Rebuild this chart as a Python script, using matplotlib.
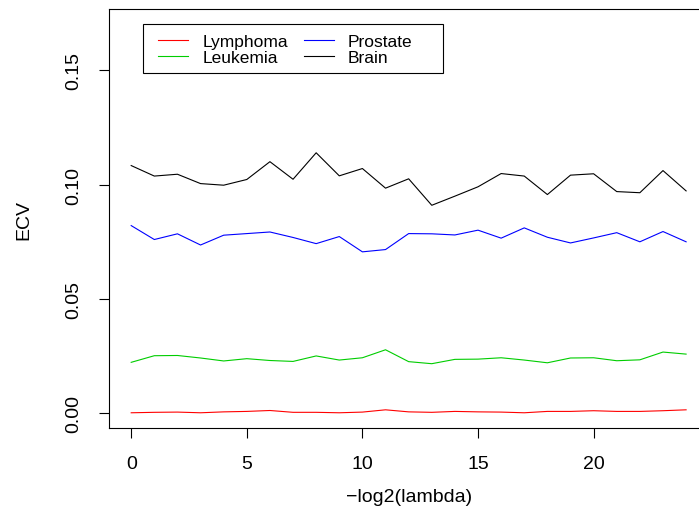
import matplotlib
matplotlib.use("Agg")
import matplotlib.pyplot as plt
from matplotlib.patches import Rectangle

plt.rcParams['font.family'] = ['Liberation Sans', 'DejaVu Sans']

# -log2(lambda)
x = list(range(25))

lymphoma = [0.0000, 0.0002, 0.0003, 0.0000, 0.0004, 0.0006, 0.0010, 0.0002, 0.0002, 0.0000,
            0.0003, 0.0013, 0.0004, 0.0002, 0.0006, 0.0004, 0.0003, 0.0000, 0.0006, 0.0006,
            0.0009, 0.0006, 0.0006, 0.0009, 0.0013]
leukemia = [0.0221, 0.0250, 0.0251, 0.0240, 0.0227, 0.0237, 0.0229, 0.0225, 0.0249, 0.0231,
            0.0241, 0.0276, 0.0224, 0.0215, 0.0234, 0.0235, 0.0241, 0.0231, 0.0219, 0.0240,
            0.0241, 0.0228, 0.0232, 0.0266, 0.0257]
prostate = [0.0820, 0.0759, 0.0784, 0.0735, 0.0778, 0.0785, 0.0792, 0.0768, 0.0741, 0.0772,
            0.0705, 0.0715, 0.0785, 0.0784, 0.0779, 0.0800, 0.0765, 0.0810, 0.0769, 0.0744,
            0.0766, 0.0789, 0.0749, 0.0794, 0.0749]
brain = [0.1083, 0.1037, 0.1045, 0.1004, 0.0997, 0.1022, 0.1100, 0.1023, 0.1139, 0.1038,
         0.1070, 0.0984, 0.1025, 0.0909, 0.0949, 0.0990, 0.1048, 0.1037, 0.0956, 0.1041,
         0.1047, 0.0969, 0.0964, 0.1061, 0.0972]

series = [("Lymphoma", lymphoma, "#FF0000"),
          ("Leukemia", leukemia, "#00CD00"),
          ("Prostate", prostate, "#0000FF"),
          ("Brain", brain, "#000000")]

W, H = 699, 510
fig = plt.figure(figsize=(W / 100, H / 100), dpi=100)
# plot region in pixels (R base graphics layout, right edge cropped)
left, right, top, bottom = 109, 708.3, 10.2, 429.3
ax = fig.add_axes([left / W, 1 - bottom / H, (right - left) / W, (bottom - top) / H])

for name, vals, col in series:
    ax.plot(x, vals, color=col, lw=0.8, label=name)

ax.set_xlim(-0.96, 24.96)
ax.set_ylim(-0.0068, 0.1768)
ax.set_xticks([0, 5, 10, 15, 20])
ax.set_yticks([0.00, 0.05, 0.10, 0.15])
ax.set_yticklabels(["0.00", "0.05", "0.10", "0.15"], rotation=90, va="center")

for s in ax.spines.values():
    s.set_linewidth(0.8)
ax.tick_params(direction="out", length=7.5, width=0.8, labelsize=14, pad=12)

ax.set_xlabel("\u2212log2(lambda)", fontsize=14)
ax.set_ylabel("ECV", fontsize=14)
ax.xaxis.set_label_coords(0.5, -0.142)
ax.yaxis.set_label_coords(-0.128, 0.5)

# legend, frame drawn separately to get R's padding
fig.legend(loc="upper left", bbox_to_anchor=(158 / W, 1 - 35 / H), ncol=2, frameon=False,
           fontsize=12.5, handlelength=1.75, handletextpad=0.8, columnspacing=0.9,
           labelspacing=0.05, borderpad=0, borderaxespad=0)
fig.patches.append(Rectangle((142.7 / W, 1 - 74 / H), (443.3 - 142.7) / W, (74 - 25) / H,
                             transform=fig.transFigure, fill=False, edgecolor="black", lw=0.8))

fig.savefig("out.png", dpi=100)
